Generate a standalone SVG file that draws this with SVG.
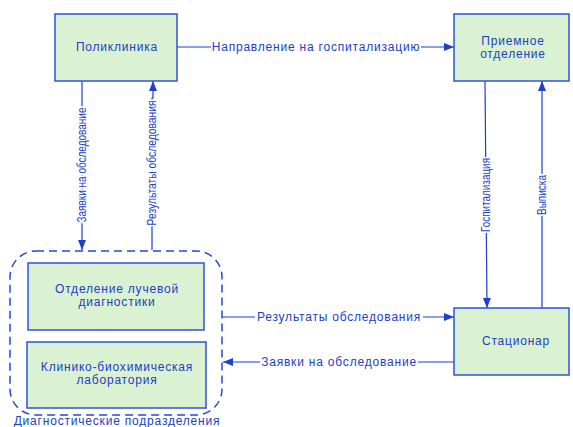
<svg xmlns="http://www.w3.org/2000/svg" width="573" height="427" viewBox="0 0 573 427">
<defs>
<marker id="ah" viewBox="0 0 10 10" refX="10" refY="5" markerWidth="10" markerHeight="10" markerUnits="userSpaceOnUse" orient="auto">
<path d="M0,1 L10,5 L0,9 Z" fill="#1c3fd0"/>
</marker>
<style>
.box{fill:#dbf2d2;stroke:#2f52d8;stroke-width:1.5}
.t{font-family:"Liberation Sans",Arial,sans-serif;font-size:12px;letter-spacing:0.8px;fill:#2141c4;text-anchor:middle}
.lbl{font-family:"Liberation Sans",Arial,sans-serif;font-size:12px;letter-spacing:0.8px;fill:#2141c4;text-anchor:middle;dominant-baseline:central}
.v{letter-spacing:0;stroke:#fff;stroke-width:4;paint-order:stroke}
.bg{fill:#fff}
.c{fill:none;stroke:#1c3fd0;stroke-width:1.2}
.grp{fill:none;stroke:#2448d0;stroke-width:1.5;stroke-dasharray:8,5}
</style>
</defs>
<g id="connectors">
<path class="c" d="M177,47 H454" marker-end="url(#ah)"/>
<path class="c" d="M82,81 V250" marker-end="url(#ah)"/>
<path class="c" d="M152,250 V98 H153 V81" marker-end="url(#ah)"/>
<path class="c" d="M485,81 L487,308" marker-end="url(#ah)"/>
<path class="c" d="M542,308 V81" marker-end="url(#ah)"/>
<path class="c" d="M222,317 H454" marker-end="url(#ah)"/>
<path class="c" d="M454,362 H223" marker-end="url(#ah)"/>
<rect class="bg" x="211" y="40" width="210" height="14"/>
<rect class="bg" x="255" y="310" width="168" height="14"/>
<rect class="bg" x="260" y="355" width="158" height="14"/>
<text class="lbl" x="316" y="47">Направление на госпитализацию</text>
<text class="lbl" x="339" y="317">Результаты обследования</text>
<text class="lbl" x="339" y="362">Заявки на обследование</text>
<text class="lbl v" transform="translate(82,165) rotate(-90)" textLength="115" lengthAdjust="spacingAndGlyphs">Заявки на обследование</text>
<text class="lbl v" transform="translate(152,163) rotate(-90)" textLength="125" lengthAdjust="spacingAndGlyphs">Результаты обследования</text>
<text class="lbl v" transform="translate(486,195) rotate(-90)" textLength="74" lengthAdjust="spacingAndGlyphs">Госпитализация</text>
<text class="lbl v" transform="translate(542,195) rotate(-90)" textLength="40" lengthAdjust="spacingAndGlyphs">Выписка</text>
</g>
<g id="group-diag">
<rect class="grp" x="10" y="251" width="212" height="164" rx="26" ry="26"/>
<text class="t" x="117" y="425">Диагностические подразделения</text>
</g>
<g id="poliklinika">
<rect class="box" x="55" y="14" width="122" height="67"/>
<text class="t" x="117" y="51">Поликлиника</text>
</g>
<g id="priemnoe">
<rect class="box" x="454" y="14" width="115" height="67"/>
<text class="t" x="513" y="45">Приемное</text>
<text class="t" x="513" y="58">отделение</text>
</g>
<g id="stacionar">
<rect class="box" x="454" y="308" width="115" height="67"/>
<text class="t" x="516" y="345">Стационар</text>
</g>
<g id="luchevaya">
<rect class="box" x="28" y="263" width="176" height="67"/>
<text class="t" x="117" y="293">Отделение лучевой</text>
<text class="t" x="117" y="306">диагностики</text>
</g>
<g id="laboratoriya">
<rect class="box" x="27" y="342" width="179" height="66"/>
<text class="t" x="117" y="371">Клинико-биохимическая</text>
<text class="t" x="117" y="384">лаборатория</text>
</g>
</svg>
